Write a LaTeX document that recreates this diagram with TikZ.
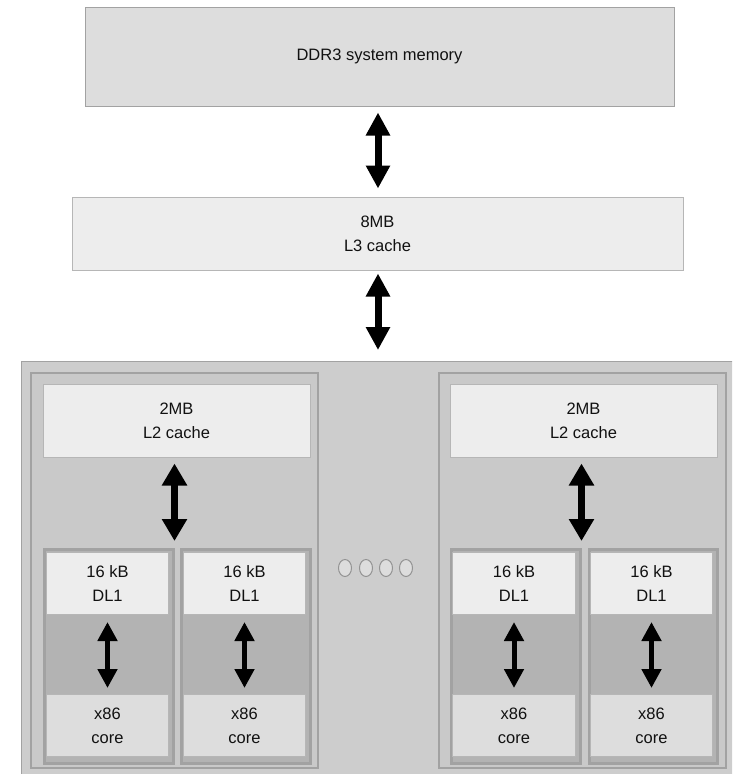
\documentclass[tikz,border=0pt]{standalone}
\usepackage{fontspec}
\setmainfont{Liberation Sans}
\usetikzlibrary{arrows.meta,shapes.geometric}

\definecolor{memfill}{HTML}{DDDDDD}
\definecolor{lightfill}{HTML}{EDEDED}
\definecolor{chipfill}{HTML}{CDCDCD}
\definecolor{modfill}{HTML}{C9C9C9}
\definecolor{corefill}{HTML}{B3B3B3}
\definecolor{edgegray}{HTML}{A2A2A2}
\definecolor{softedge}{HTML}{B6B6B6}
\definecolor{inktext}{HTML}{111111}

\tikzset{
  x=1pt, y=-1pt,
  label font/.style={font=\fontsize{16.5}{24}\selectfont, text=inktext, align=center},
  blockbox/.style={rectangle, inner sep=0pt, label font, draw=edgegray, line width=1pt},
  membox/.style={blockbox, fill=memfill},
  cachebox/.style={blockbox, fill=lightfill, draw=softedge},
  corebox/.style={blockbox, fill=memfill, draw=softedge},
  modulebox/.style={rectangle, inner sep=0pt, fill=modfill, draw=edgegray, line width=2pt},
  coreframe/.style={rectangle, inner sep=0pt, fill=corefill, draw=edgegray, line width=3pt},
  busarrow/.style={draw=black, line width=7pt,
    {Triangle[length=23pt,width=23pt]}-{Triangle[length=23pt,width=23pt]}},
  modarrow/.style={draw=black, line width=7pt,
    {Triangle[length=22pt,width=24pt]}-{Triangle[length=22pt,width=24pt]}},
  corearrow/.style={draw=black, line width=5pt,
    {Triangle[length=19pt,width=19pt]}-{Triangle[length=19pt,width=19pt]}},
  dotmark/.style={ellipse, inner sep=0pt, minimum width=13pt, minimum height=17pt,
    fill=memfill, draw=gray!85, line width=1pt}
}

\begin{document}
\begin{tikzpicture}
\clip (0,0) rectangle (732,774);
\fill[white] (0,0) rectangle (732,774);

% main memory and shared L3
\node[membox, minimum width=589pt, minimum height=99pt] (ddr) at (379.5,56.5) {DDR3 system memory};
\node[cachebox, minimum width=611pt, minimum height=73pt] (l3) at (377.5,233.5) {8MB\\L3 cache};

% processor package
\node[rectangle, inner sep=0pt, fill=chipfill, draw=edgegray, line width=1pt,
      minimum width=714pt, minimum height=420pt, anchor=north west] (chip) at (21,361) {};

% two dual-core modules
\node[modulebox, minimum width=287pt, minimum height=395pt, anchor=north west] (moda) at (30,372) {};
\node[modulebox, minimum width=287pt, minimum height=395pt, anchor=north west] (modb) at (438,372) {};

\node[cachebox, minimum width=267pt, minimum height=73pt] (l2a) at (176.5,420.5) {2MB\\L2 cache};
\node[cachebox, minimum width=267pt, minimum height=73pt] (l2b) at (583.5,420.5) {2MB\\L2 cache};

% core frames
\node[coreframe, minimum width=129pt, minimum height=214pt, anchor=north west] (fa1) at (42.5,547.5) {};
\node[coreframe, minimum width=129pt, minimum height=214pt, anchor=north west] (fa2) at (179.5,547.5) {};
\node[coreframe, minimum width=129pt, minimum height=214pt, anchor=north west] (fb1) at (449.5,547.5) {};
\node[coreframe, minimum width=128pt, minimum height=214pt, anchor=north west] (fb2) at (587.5,547.5) {};

% L1 data caches
\node[cachebox, minimum width=122pt, minimum height=62pt, anchor=north west] (dla1) at (46,552) {16 kB\\DL1};
\node[cachebox, minimum width=122pt, minimum height=62pt, anchor=north west] (dla2) at (183,552) {16 kB\\DL1};
\node[cachebox, minimum width=123pt, minimum height=62pt, anchor=north west] (dlb1) at (452,552) {16 kB\\DL1};
\node[cachebox, minimum width=122pt, minimum height=62pt, anchor=north west] (dlb2) at (590,552) {16 kB\\DL1};

% x86 cores
\node[corebox, minimum width=122pt, minimum height=62pt, anchor=north west] (ca1) at (46,694) {x86\\core};
\node[corebox, minimum width=122pt, minimum height=62pt, anchor=north west] (ca2) at (183,694) {x86\\core};
\node[corebox, minimum width=123pt, minimum height=62pt, anchor=north west] (cb1) at (452,694) {x86\\core};
\node[corebox, minimum width=122pt, minimum height=62pt, anchor=north west] (cb2) at (590,694) {x86\\core};

% more modules
\foreach \i/\xx in {1/345,2/366,3/386,4/406}
  \node[dotmark] (more\i) at (\xx,568) {};

% buses
\coordinate (busaxis) at (378,0);
\draw[busarrow, shorten <=6pt, shorten >=8pt] (ddr.south -| busaxis) -- (l3.north -| busaxis);
\draw[busarrow, shorten <=3pt, shorten >=11pt] (l3.south -| busaxis) -- (chip.north -| busaxis);

\coordinate (gapa) at (174.5,546);
\coordinate (gapb) at (581.5,546);
\draw[modarrow, shorten <=6pt, shorten >=5pt] (l2a.south -| gapa) -- (gapa);
\draw[modarrow, shorten <=6pt, shorten >=5pt] (l2b.south -| gapb) -- (gapb);

\foreach \d/\c in {dla1/ca1,dla2/ca2,dlb1/cb1,dlb2/cb2}
  \draw[corearrow, shorten <=7pt, shorten >=6pt] (\d.south) -- (\c.north);
\end{tikzpicture}
\end{document}
